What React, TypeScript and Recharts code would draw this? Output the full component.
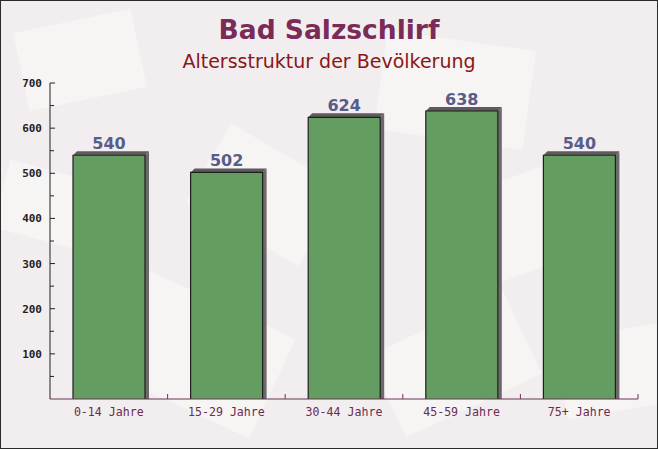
import React from "react";
import { Bar, BarChart, LabelList, XAxis, YAxis } from "recharts";

const categories = ["0-14 Jahre", "15-29 Jahre", "30-44 Jahre", "45-59 Jahre", "75+ Jahre"];
const population = [540, 502, 624, 638, 540];
const yTicks = [0, 50, 100, 150, 200, 250, 300, 350, 400, 450, 500, 550, 600, 650, 700];

const W = 658;
const H = 449;
const MARGIN = { top: 83, right: 20, bottom: 20, left: 0 };
const Y_AXIS_W = 50;
const X_AXIS_H = 30;
const DEPTH = 4;

const chartData = categories.map((name, i) => ({ name, value: population[i] }));

const bandWidth = (W - MARGIN.left - MARGIN.right - Y_AXIS_W) / categories.length;

function Bar3D(props: any) {
  const { x, y, width, height } = props;
  if (!height || height <= 0) return null;
  const side = `${x + width},${y + height} ${x + width},${y} ${x + width + DEPTH},${y - DEPTH} ${x + width + DEPTH},${y + height}`;
  const top = `${x},${y} ${x + DEPTH},${y - DEPTH} ${x + width + DEPTH},${y - DEPTH} ${x + width},${y}`;
  return (
    <g>
      <polygon points={side} fill="#6d696a" />
      <polygon points={top} fill="#5f5b5c" />
      <rect x={x} y={y} width={width} height={height} fill="#649d61" />
      <path
        d={`M${x},${y + height} V${y} H${x + width} V${y + height}`}
        fill="none"
        stroke="#1e1e1e"
        strokeWidth={1.2}
      />
    </g>
  );
}

function YTick(props: any) {
  const { x, y, payload } = props;
  const v = payload.value as number;
  const major = v % 100 === 0;
  if (v === 0) return null;
  return (
    <g>
      <line x1={x} x2={x + (major ? 5 : 4)} y1={y} y2={y} stroke="#222" strokeWidth={1} />
      {major && (
        <text
          x={x - 8}
          y={y}
          dy={4}
          textAnchor="end"
          fontFamily="'DejaVu Sans Mono', monospace"
          fontWeight="bold"
          fontSize={11}
          fill="#1f1f1f"
        >
          {v}
        </text>
      )}
    </g>
  );
}

function XTick(props: any) {
  const { x, y, payload } = props;
  const right = x + bandWidth / 2;
  return (
    <g>
      <line x1={right} x2={right} y1={y} y2={y - 5} stroke="#6b3552" strokeWidth={1} />
      <text
        x={x}
        y={y + 17}
        textAnchor="middle"
        fontFamily="'DejaVu Sans Mono', monospace"
        fontSize={11.6}
        fill="#6b2b50"
      >
        {payload.value}
      </text>
    </g>
  );
}

function Backdrop() {
  const sheets = [
    { x: 20, y: 20, w: 120, h: 80, r: -12 },
    { x: 120, y: 300, w: 160, h: 110, r: 25 },
    { x: 380, y: 40, w: 150, h: 100, r: 8 },
    { x: 470, y: 170, w: 140, h: 95, r: -20 },
    { x: 200, y: 150, w: 130, h: 90, r: 30 },
    { x: 560, y: 330, w: 120, h: 80, r: -10 },
    { x: 0, y: 170, w: 90, h: 70, r: 15 },
    { x: 380, y: 320, w: 150, h: 90, r: -25 },
  ];
  return (
    <svg width={W} height={H} style={{ position: "absolute", left: 0, top: 0 }}>
      <rect width={W} height={H} fill="#f2eeef" />
      {sheets.map((s, i) => (
        <rect
          key={i}
          x={s.x}
          y={s.y}
          width={s.w}
          height={s.h}
          fill="#fbf9f9"
          opacity={0.5}
          transform={`rotate(${s.r} ${s.x + s.w / 2} ${s.y + s.h / 2})`}
        />
      ))}
    </svg>
  );
}

export default function App() {
  return (
    <div
      style={{
        position: "absolute",
        left: 0,
        top: 0,
        width: W,
        height: H,
        boxSizing: "border-box",
        overflow: "hidden",
      }}
    >
      <Backdrop />
      <div
        style={{
          position: "absolute",
          left: 0,
          right: 0,
          top: 14,
          textAlign: "center",
          fontFamily: "'DejaVu Sans', sans-serif",
          fontWeight: "bold",
          fontSize: 26.5,
          color: "#7a2b58",
        }}
      >
        Bad Salzschlirf
      </div>
      <div
        style={{
          position: "absolute",
          left: 0,
          right: 0,
          top: 50,
          textAlign: "center",
          fontFamily: "'DejaVu Sans', sans-serif",
          fontSize: 19,
          color: "#8b1616",
        }}
      >
        Altersstruktur der Bevölkerung
      </div>
      <div style={{ position: "absolute", left: 0, top: 0 }}>
        <BarChart width={W} height={H} data={chartData} margin={MARGIN} barSize={72}>
          <XAxis
            dataKey="name"
            height={X_AXIS_H}
            axisLine={{ stroke: "#6b3552", strokeWidth: 1 }}
            tickLine={false}
            tickSize={0}
            tickMargin={0}
            tick={<XTick />}
            interval={0}
          />
          <YAxis
            width={Y_AXIS_W}
            domain={[0, 700]}
            ticks={yTicks}
            interval={0}
            axisLine={{ stroke: "#222", strokeWidth: 1 }}
            tickLine={false}
            tickSize={0}
            tickMargin={0}
            tick={<YTick />}
          />
          <Bar dataKey="value" shape={<Bar3D />} isAnimationActive={false}>
            <LabelList
              dataKey="value"
              position="top"
              offset={6}
              fill="#585c88"
              fontFamily="'DejaVu Sans', sans-serif"
              fontWeight="bold"
              fontSize={16}
            />
          </Bar>
        </BarChart>
      </div>
      <div
        style={{
          position: "absolute",
          left: 0,
          top: 0,
          width: W,
          height: H,
          boxSizing: "border-box",
          border: "1px solid #2a2a2a",
          pointerEvents: "none",
        }}
      />
    </div>
  );
}
